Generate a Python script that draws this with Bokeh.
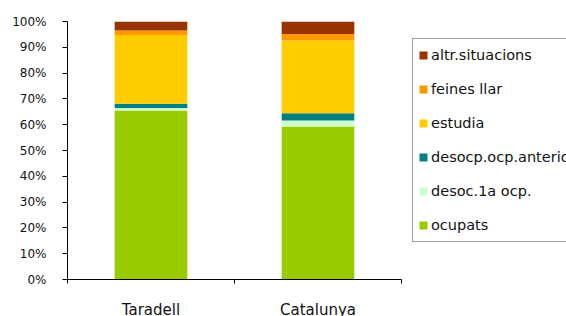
from bokeh.plotting import figure
from bokeh.models import Range1d, FixedTicker, Legend, LegendItem, ColumnDataSource
from bokeh.embed import file_html
from bokeh.resources import INLINE

categories = ["Taradell", "Catalunya"]
series = ["ocupats", "desoc.1a ocp.", "desocp.ocp.anterior", "estudia", "feines llar", "altr.situacions"]
ocupats = [65.5, 59.3]
desoc_1a_ocp = [1.0, 2.3]
desocp_ocp_anterior = [1.6, 2.8]
estudia = [26.7, 28.2]
feines_llar = [1.7, 2.6]
altr_situacions = [3.5, 4.8]
colors = ["#99CC00", "#CCFFCC", "#008080", "#FFCC00", "#FF9900", "#993300"]
y_ticks = list(range(0, 101, 10))

values = [ocupats, desoc_1a_ocp, desocp_ocp_anterior, estudia, feines_llar, altr_situacions]
keys = ["s%d" % i for i in range(len(series))]
totals = [sum(v[j] for v in values) for j in range(len(categories))]
xs = [j + 0.5 for j in range(len(categories))]
data = {"x": xs}
for k, v in zip(keys, values):
    data[k] = [v[j] * 100.0 / totals[j] for j in range(len(categories))]
source = ColumnDataSource(data)

p = figure(frame_width=499, frame_height=258, output_backend="svg", toolbar_location=None,
           x_range=Range1d(0, 499 / 167), y_range=Range1d(0, 100),
           min_border_left=67, min_border_right=0, min_border_top=21, min_border_bottom=37)
p.outline_line_color = None
p.xgrid.visible = False
p.ygrid.visible = False
p.background_fill_color = "white"
p.border_fill_color = "white"

renderers = p.vbar_stack(keys, x="x", width=0.435, color=colors, line_color=None, source=source)

# y axis
p.yaxis.ticker = FixedTicker(ticks=y_ticks)
p.yaxis.major_label_overrides = {t: "%d%%" % t for t in y_ticks}
p.yaxis.major_tick_out = 5
p.yaxis.major_tick_in = 0
p.yaxis.minor_tick_line_color = None
p.yaxis.axis_line_color = "black"
p.yaxis.major_tick_line_color = "black"
p.yaxis.major_label_text_font = "DejaVu Sans"
p.yaxis.major_label_text_font_size = "12px"
p.yaxis.major_label_text_color = "#111111"
p.yaxis.major_label_standoff = 16

# x axis
p.xaxis.ticker = FixedTicker(ticks=xs, minor_ticks=list(range(len(categories) + 1)))
p.xaxis.major_label_overrides = {x: c for x, c in zip(xs, categories)}
p.xaxis.bounds = (0, len(categories))
p.xaxis.major_tick_line_color = None
p.xaxis.major_tick_out = 0
p.xaxis.major_tick_in = 0
p.xaxis.minor_tick_out = 4
p.xaxis.minor_tick_in = 0
p.xaxis.minor_tick_line_color = "black"
p.xaxis.axis_line_color = "black"
p.xaxis.major_label_text_font = "DejaVu Sans"
p.xaxis.major_label_text_font_size = "15px"
p.xaxis.major_label_text_color = "#111111"
p.xaxis.major_label_standoff = 17

items = [LegendItem(label=series[i], renderers=[renderers[i]]) for i in reversed(range(len(series)))]
legend = Legend(items=items, location=(345, 37), margin=0, padding=5,
                glyph_width=10, glyph_height=10, label_height=22, spacing=12,
                label_standoff=3, label_text_font="DejaVu Sans", label_text_font_size="14.5px",
                label_text_color="#111111",
                border_line_color="#404040", border_line_width=1,
                background_fill_color="white", background_fill_alpha=1.0)
p.add_layout(legend, "center")

open("out.html", "w").write(file_html(p, INLINE))
